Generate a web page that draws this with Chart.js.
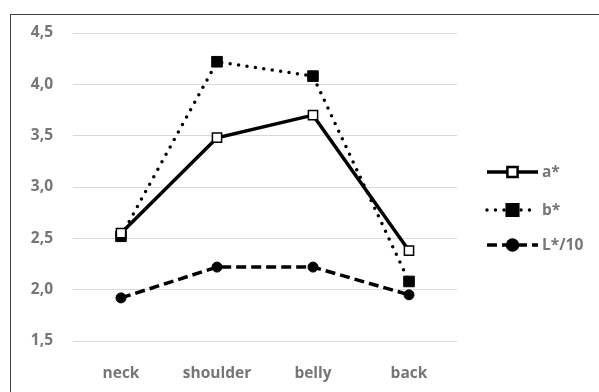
<!DOCTYPE html>
<html>
<head>
<meta charset="utf-8">
<script src="https://cdn.jsdelivr.net/npm/chart.js@4"></script>
<style>
  html, body { margin: 0; padding: 0; background: #fff; }
  #wrap { position: relative; width: 599px; height: 392px; }
</style>
</head>
<body>
<div id="wrap"><canvas id="chart" width="599" height="392"></canvas></div>
<script>
// --- chart data ---
const categories = ['neck', 'shoulder', 'belly', 'back'];
const seriesNames = ['a*', 'b*', 'L*/10'];
const aValues = [2.55, 3.48, 3.70, 2.38];
const bValues = [2.52, 4.22, 4.08, 2.08];
const lValues = [1.92, 2.22, 2.22, 1.95];
const yTicks = [1.5, 2.0, 2.5, 3.0, 3.5, 4.0, 4.5];

const textColor = '#767676';
const font = { family: 'Open Sans, Liberation Sans, sans-serif', size: 15.5, weight: 'bold' };

// outer frame (only left/top edges fall inside the picture)
const framePlugin = {
  id: 'frame',
  beforeDraw(chart) {
    const ctx = chart.ctx;
    ctx.save();
    ctx.fillStyle = '#fff';
    ctx.fillRect(0, 0, chart.width, chart.height);
    ctx.strokeStyle = '#404040';
    ctx.lineWidth = 1;
    ctx.strokeRect(10.5, 14.5, 700, 500);
    ctx.restore();
  }
};

// legend on the right: line sample with marker in the middle
const legendPlugin = {
  id: 'sideLegend',
  afterDraw(chart) {
    const ctx = chart.ctx;
    const x0 = 487, x1 = 538;
    const rows = [172, 210, 245];
    chart.data.datasets.forEach((ds, i) => {
      const y = rows[i];
      ctx.save();
      ctx.strokeStyle = ds.borderColor;
      ctx.lineWidth = ds.borderWidth;
      ctx.lineCap = ds.borderCapStyle || 'butt';
      ctx.setLineDash(ds.borderDash || []);
      ctx.beginPath();
      ctx.moveTo(x0, y);
      ctx.lineTo(x1, y);
      ctx.stroke();
      ctx.setLineDash([]);
      Chart.helpers.drawPoint(ctx, {
        pointStyle: ds.pointStyle,
        radius: ds.pointRadius,
        borderWidth: ds.pointBorderWidth
      }, (x0 + x1) / 2, y);
      ctx.fillStyle = ds.pointBackgroundColor;
      ctx.strokeStyle = ds.pointBorderColor;
      ctx.lineWidth = ds.pointBorderWidth;
      ctx.fill();
      ctx.stroke();
      ctx.fillStyle = textColor;
      ctx.font = 'bold ' + font.size + 'px ' + font.family;
      ctx.textBaseline = 'middle';
      ctx.textAlign = 'left';
      ctx.fillText(ds.label, x1 + 4, y + 1);
      ctx.restore();
    });
  }
};

const chart = new Chart(document.getElementById('chart'), {
  type: 'line',
  data: {
    labels: categories,
    datasets: [
      {
        label: seriesNames[0],
        data: aValues,
        borderColor: '#000',
        borderWidth: 3.5,
        pointStyle: 'rect',
        pointRadius: 6.5,
        pointBorderWidth: 1.5,
        pointBackgroundColor: '#fff',
        pointBorderColor: '#000'
      },
      {
        label: seriesNames[1],
        data: bValues,
        borderColor: '#000',
        borderWidth: 3.5,
        borderDash: [0, 8.5],
        borderCapStyle: 'round',
        pointStyle: 'rect',
        pointRadius: 7.5,
        pointBorderWidth: 1,
        pointBackgroundColor: '#000',
        pointBorderColor: '#000'
      },
      {
        label: seriesNames[2],
        data: lValues,
        borderColor: '#000',
        borderWidth: 3.5,
        borderDash: [10, 5],
        pointStyle: 'circle',
        pointRadius: 5,
        pointBorderWidth: 1,
        pointBackgroundColor: '#000',
        pointBorderColor: '#000'
      }
    ]
  },
  options: {
    responsive: false,
    animation: false,
    devicePixelRatio: 1,
    layout: { padding: { left: 0, right: 142, top: 33, bottom: 0 } },
    plugins: { legend: { display: false }, tooltip: { enabled: false } },
    scales: {
      x: {
        offset: true,
        grid: { display: false, drawTicks: false },
        border: { display: false },
        ticks: { color: textColor, font: font, padding: 23 },
        afterFit(scale) { scale.height = 51; }
      },
      y: {
        min: 1.5,
        max: 4.5,
        afterBuildTicks(scale) { scale.ticks = yTicks.map(v => ({ value: v })); },
        grid: { color: '#d9d9d9', lineWidth: 1, drawTicks: false },
        border: { display: false },
        ticks: {
          color: textColor,
          font: font,
          padding: 20,
          callback: v => v.toFixed(1).replace('.', ',')
        },
        afterFit(scale) { scale.width = 73; }
      }
    }
  },
  plugins: [framePlugin, legendPlugin]
});
</script>
</body>
</html>
